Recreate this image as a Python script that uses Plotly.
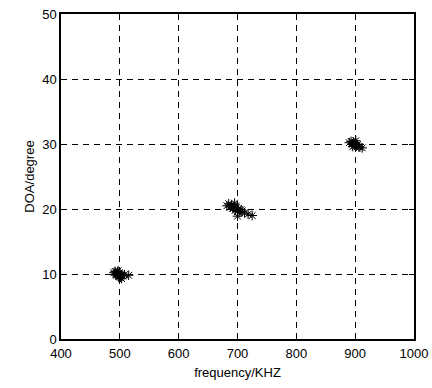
import plotly.graph_objects as go

freq_c1 = [490, 492, 494, 495, 496, 497, 498, 499, 500, 501, 502, 503, 505, 508, 515, 493, 497]
doa_c1 = [10.2, 10.4, 10.1, 9.8, 10.3, 10.0, 9.6, 10.2, 9.9, 9.5, 9.8, 9.3, 9.7, 9.9, 9.8, 9.9, 10.5]
freq_c2 = [682, 685, 688, 690, 692, 694, 696, 698, 700, 702, 704, 706, 708, 712, 718, 725, 700, 695]
doa_c2 = [20.5, 20.8, 20.3, 20.6, 20.1, 20.4, 19.8, 20.2, 19.6, 20.0, 19.5, 19.9, 19.7, 19.4, 19.2, 19.0, 18.9, 20.9]
freq_c3 = [890, 893, 895, 897, 899, 900, 902, 904, 906, 908, 912, 896, 901]
doa_c3 = [30.2, 30.4, 30.0, 30.3, 29.8, 30.1, 29.7, 29.9, 29.6, 29.5, 29.4, 29.6, 30.5]

x_ticks = [400, 500, 600, 700, 800, 900, 1000]
y_ticks = [0, 10, 20, 30, 40, 50]

freq = freq_c1 + freq_c2 + freq_c3
doa = doa_c1 + doa_c2 + doa_c3

fig = go.Figure()
fig.add_trace(go.Scatter(
    x=freq, y=doa, mode="markers",
    marker=dict(symbol="asterisk-open", size=8, color="black",
                line=dict(color="black", width=1)),
    showlegend=False,
))

font = dict(family="Liberation Sans, Arial", size=13, color="black")

axis_common = dict(
    showgrid=True, gridcolor="black", gridwidth=1, griddash="6px,5px",
    showline=True, linecolor="black", linewidth=1.5, mirror="ticks",
    ticks="inside", ticklen=5, tickcolor="black",
    zeroline=False, automargin=False,
    tickfont=font,
)

fig.update_xaxes(range=[400, 1000], tickvals=x_ticks, ticklabelstandoff=2,
                 title=dict(text="frequency/KHZ", standoff=8, font=font),
                 **axis_common)
fig.update_yaxes(range=[0, 50], tickvals=y_ticks,
                 title=dict(text="DOA/degree", standoff=5, font=font),
                 **axis_common)

fig.update_layout(
    width=432, height=388,
    margin=dict(l=61, r=18, t=14, b=49),
    plot_bgcolor="white", paper_bgcolor="white",
)

fig.write_html("out.html", config={"displayModeBar": False},
               post_script="document.body.style.margin='0';document.body.style.overflow='hidden';")
